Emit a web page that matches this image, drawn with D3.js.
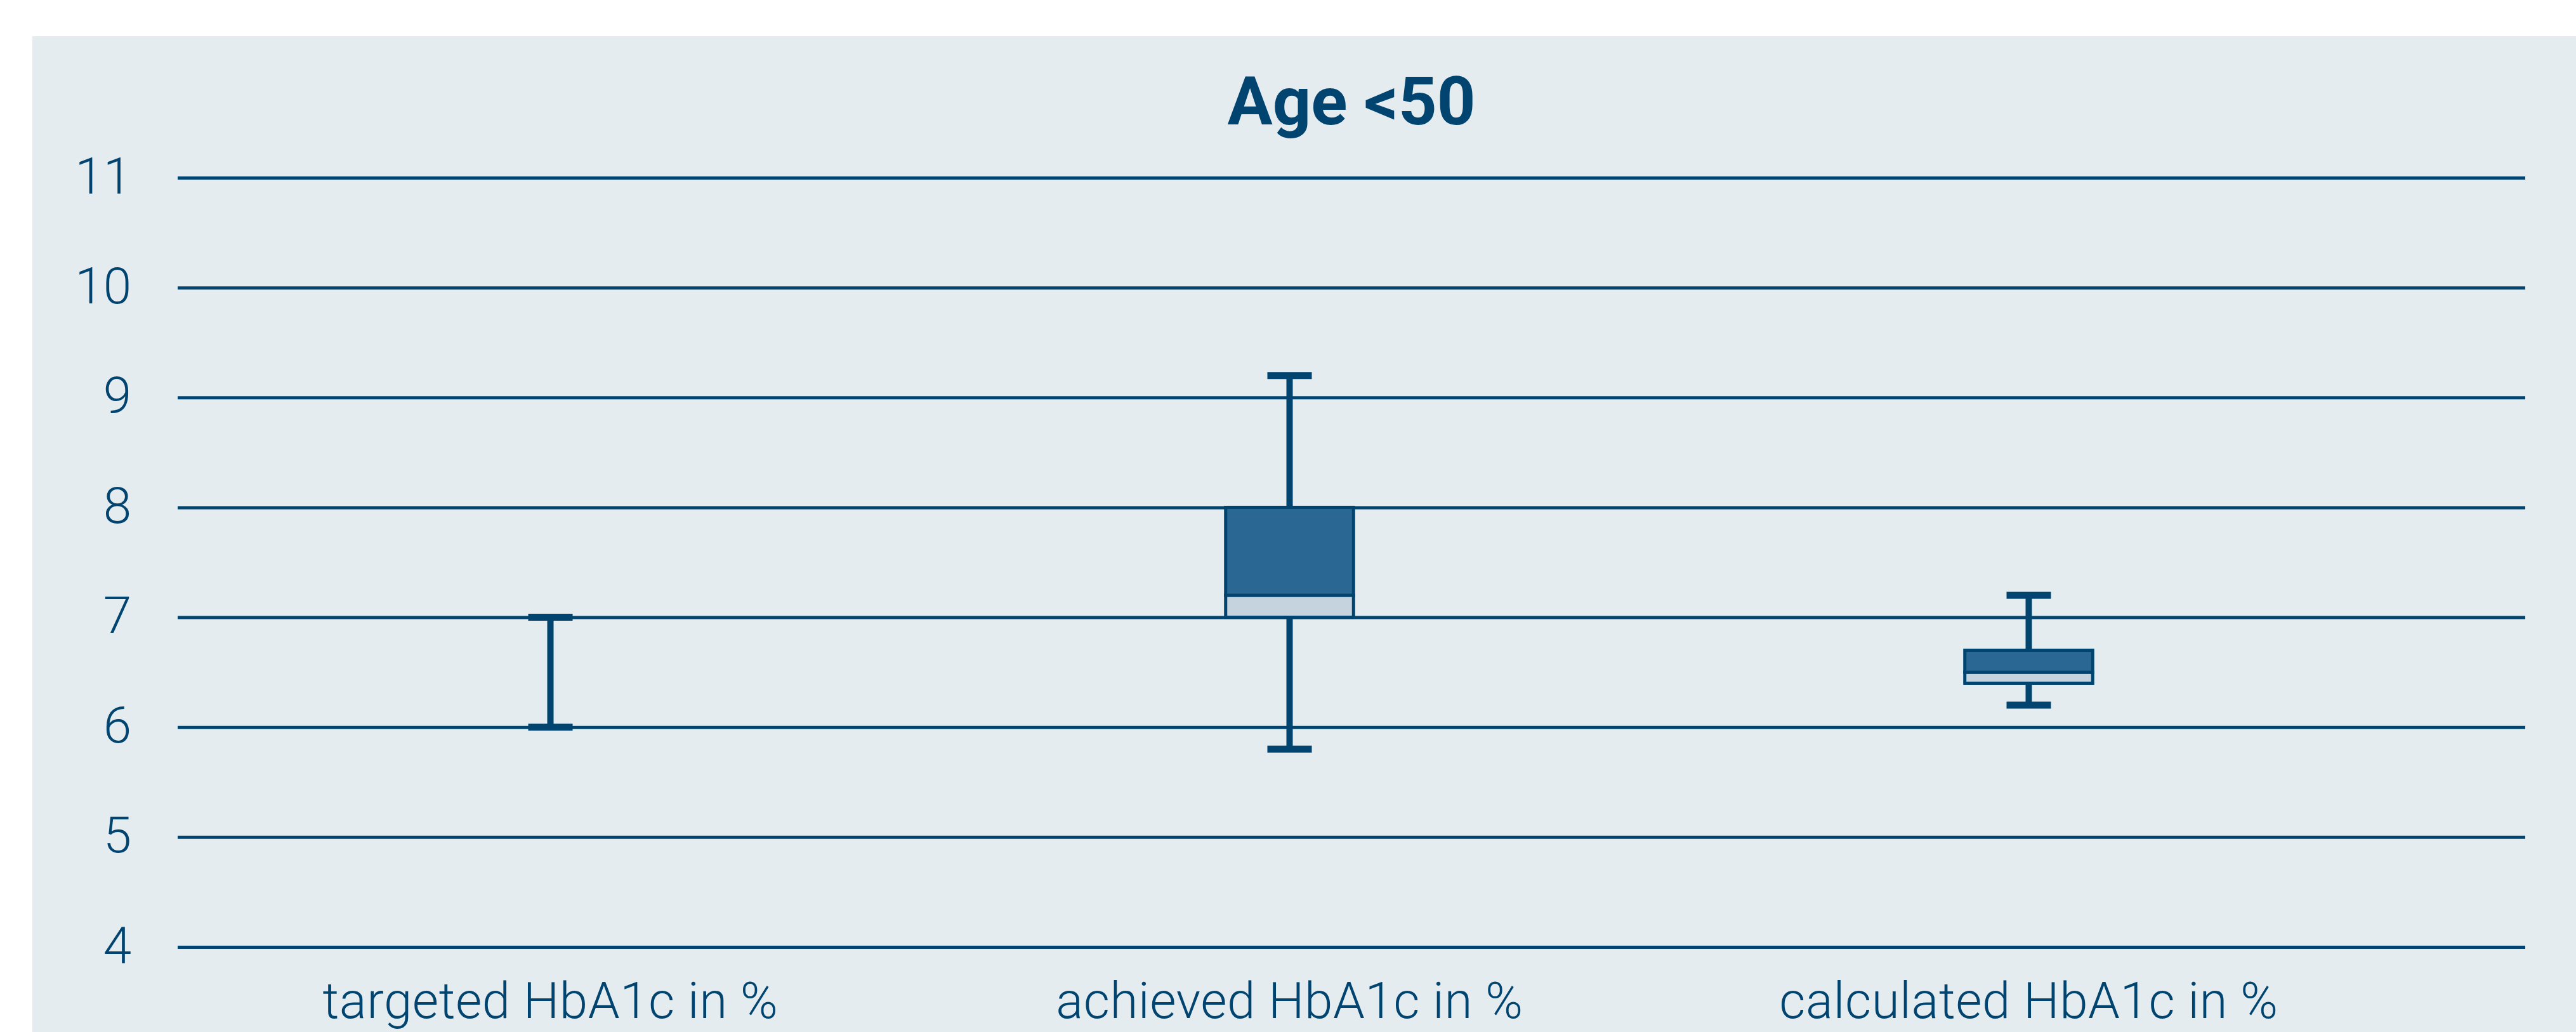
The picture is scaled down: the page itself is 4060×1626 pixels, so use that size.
<!DOCTYPE html>
<html>
<head>
<meta charset="utf-8">
<script src="https://cdn.jsdelivr.net/npm/d3@7"></script>
<style>
  body { margin: 0; background: #ffffff; }
  text { font-family: Roboto, "Noto Sans", sans-serif; fill: #00446f; }
  .grid .tick line { stroke: #00446f; stroke-width: 5; }
  .grid .domain { display: none; }
</style>
</head>
<body>
<div id="chart"></div>
<script>
// chart values
var categories = ["targeted HbA1c in %", "achieved HbA1c in %", "calculated HbA1c in %"];
var lowValues = [6, 5.8, 6.2];
var q1Values = [null, 7.0, 6.4];
var medianValues = [null, 7.2, 6.5];
var q3Values = [null, 8.0, 6.7];
var highValues = [7, 9.2, 7.2];
var yTicks = [4, 5, 6, 7, 8, 9, 10, 11];
var title = "Age <50";

var W = 4060, H = 1626,
    plot = {left: 280, right: 3980, top: 280, bottom: 1492},
    dark = "#00446f";

var svg = d3.select("#chart").append("svg")
    .attr("width", W)
    .attr("height", H);

// panel background
svg.append("rect")
    .attr("x", 51)
    .attr("y", 57)
    .attr("width", W - 51)
    .attr("height", H - 57)
    .attr("fill", "#e4ecf0");

// scales
var y = d3.scaleLinear()
    .domain([4, 11])
    .range([plot.bottom, plot.top]);

var x = d3.scaleBand()
    .domain(categories)
    .range([285, 3780]);

var boxW = x.step() * 0.173,
    capW = 70;

// title
svg.append("text")
    .attr("x", (plot.left + plot.right) / 2)
    .attr("y", 196)
    .attr("text-anchor", "middle")
    .style("font-size", "106px")
    .style("font-weight", "bold")
    .text(title);

// gridlines + y labels
svg.append("g")
    .attr("class", "grid")
    .attr("transform", "translate(" + plot.left + ",0)")
    .call(d3.axisLeft(y)
        .tickValues(yTicks)
        .tickFormat(d3.format("d"))
        .tickSize(-(plot.right - plot.left))
        .tickPadding(73))
    .call(function(g) {
        g.selectAll("text")
            .style("font-size", "80px")
            .style("font-weight", 300)
            .attr("fill", dark)
            .attr("dy", "0.3em");
    });

// x labels
svg.append("g")
    .selectAll("text")
    .data(categories)
    .enter()
    .append("text")
    .attr("x", function(d) { return x(d) + x.bandwidth() / 2; })
    .attr("y", 1604)
    .attr("text-anchor", "middle")
    .style("font-size", "80px")
    .style("font-weight", 300)
    .style("letter-spacing", "0.5px")
    .text(function(d) { return d; });

var items = categories.map(function(c, i) {
    return {cat: c, low: lowValues[i], q1: q1Values[i], med: medianValues[i], q3: q3Values[i], high: highValues[i]};
});

var g = svg.append("g");

// whisker line
g.selectAll(".whisker")
    .data(items)
    .enter()
    .append("line")
    .attr("x1", function(d) { return x(d.cat) + x.bandwidth() / 2; })
    .attr("x2", function(d) { return x(d.cat) + x.bandwidth() / 2; })
    .attr("y1", function(d) { return y(d.low); })
    .attr("y2", function(d) { return y(d.high); })
    .attr("stroke", dark)
    .attr("stroke-width", 10);

// caps
["low", "high"].forEach(function(k) {
    g.selectAll(".cap-" + k)
        .data(items)
        .enter()
        .append("line")
        .attr("x1", function(d) { return x(d.cat) + x.bandwidth() / 2 - capW / 2; })
        .attr("x2", function(d) { return x(d.cat) + x.bandwidth() / 2 + capW / 2; })
        .attr("y1", function(d) { return y(d[k]); })
        .attr("y2", function(d) { return y(d[k]); })
        .attr("stroke", dark)
        .attr("stroke-width", 11);
});

var boxes = items.filter(function(d) { return d.q1 != null; });

// lower box part (q1 - median)
g.selectAll(".lower")
    .data(boxes)
    .enter()
    .append("rect")
    .attr("x", function(d) { return x(d.cat) + x.bandwidth() / 2 - boxW / 2; })
    .attr("width", boxW)
    .attr("y", function(d) { return y(d.med); })
    .attr("height", function(d) { return y(d.q1) - y(d.med); })
    .attr("fill", "#c5d3df")
    .attr("stroke", dark)
    .attr("stroke-width", 5);

// upper box part (median - q3)
g.selectAll(".upper")
    .data(boxes)
    .enter()
    .append("rect")
    .attr("x", function(d) { return x(d.cat) + x.bandwidth() / 2 - boxW / 2; })
    .attr("width", boxW)
    .attr("y", function(d) { return y(d.q3); })
    .attr("height", function(d) { return y(d.med) - y(d.q3); })
    .attr("fill", "#2a6893")
    .attr("stroke", dark)
    .attr("stroke-width", 5);
</script>
</body>
</html>
